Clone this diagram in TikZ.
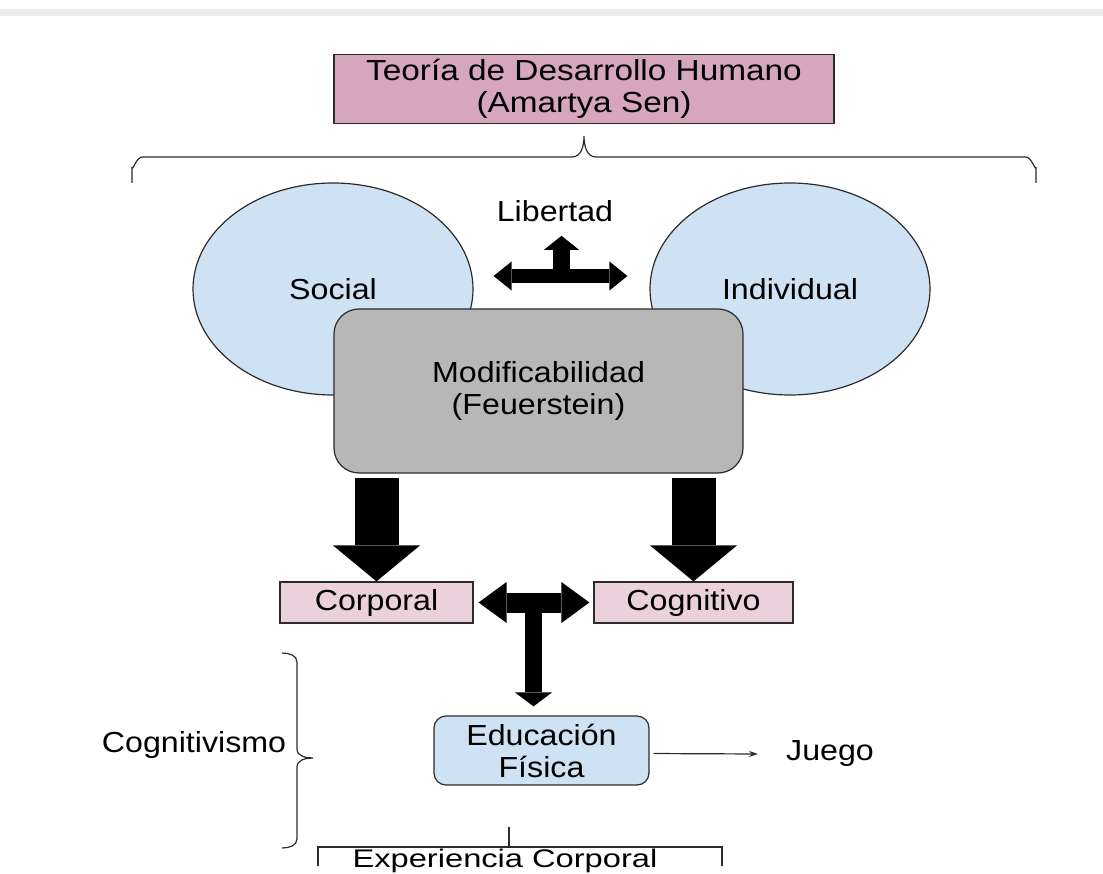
\documentclass[tikz,border=0pt]{standalone}
\usepackage{fontspec}
\setmainfont{Liberation Sans}[FakeStretch=1.11]
\newfontfamily\titlefont{Liberation Sans}[FakeStretch=1.15]
\newfontfamily\widefont{Liberation Sans}[FakeStretch=1.28]
\usepackage{tikz}
\usetikzlibrary{shapes.geometric,arrows.meta}

\definecolor{teoriapink}{HTML}{D5A6BD}
\definecolor{boxpink}{HTML}{EAD1DC}
\definecolor{ovalblue}{HTML}{CFE2F3}
\definecolor{modgray}{HTML}{B7B7B7}
\definecolor{edgegray}{HTML}{2B2B2B}

\begin{document}
\begin{tikzpicture}[x=1pt,y=-1pt,
    every node/.style={font=\fontsize{29}{32}\selectfont},
    oval/.style={ellipse, draw=edgegray, line width=1.2pt, fill=ovalblue, minimum width=280pt, minimum height=212pt},
    pinkbox/.style={rectangle, draw=edgegray, line width=1.2pt, fill=boxpink, minimum height=41pt},
    blockarrow/.style n args={3}{line width=#1, -{Triangle[width=#2,length=#3,line width=0pt]}},
    blockboth/.style n args={3}{line width=#1, {Triangle[width=#2,length=#3,line width=0pt]}-{Triangle[width=#2,length=#3,line width=0pt]}},
    bracket/.style={draw=edgegray, line width=1.2pt}]
  \useasboundingbox (0,0) rectangle (1103,874);
  \fill[black!7] (0,9) rectangle (1103,16);

  \node[rectangle, draw=edgegray, line width=1.2pt, fill=teoriapink, minimum width=500pt, minimum height=69pt, align=center, font=\titlefont\fontsize{29}{32}\selectfont] (teoria) at (584,89) {Teoría de Desarrollo Humano\\(Amartya Sen)};
  \draw[bracket] (132,183) -- (132,167) to[out=-90,in=180] (142,157) -- (572,157) to[out=0,in=-90] (584,136) to[out=-90,in=180] (596,157) -- (1026,157) to[out=0,in=-90] (1036,167) -- (1036,183);

  \node[oval] (social) at (333,289) {Social};
  \node[oval] (individual) at (790,289) {Individual};
  \node[anchor=base] (libertad) at (555,222) {Libertad};
  \draw[blockboth={14pt}{29pt}{18pt}, shorten <=20pt, shorten >=22pt] ([yshift=13pt]social.east) -- coordinate (libmid) ([yshift=13pt]individual.west);
  \draw[blockarrow={17pt}{35pt}{14pt}, shorten >=10pt] (libmid) -- (libmid |- libertad.south);

  \node[rectangle, rounded corners=25pt, draw=edgegray, line width=1.2pt, fill=modgray, minimum width=409pt, minimum height=164pt, align=center] (modif) at (538.5,391) {Modificabilidad\\(Feuerstein)};

  \node[pinkbox, minimum width=193pt] (corporal) at (376.5,602.5) {Corporal};
  \node[pinkbox, minimum width=199pt] (cognitivo) at (693.5,602.5) {Cognitivo};
  \draw[blockarrow={44pt}{87pt}{36pt}, shorten <=4pt] (modif.south -| corporal.north) -- (corporal.north);
  \draw[blockarrow={44pt}{87pt}{36pt}, shorten <=4pt] (modif.south -| cognitivo.north) -- (cognitivo.north);

  \node[rectangle, rounded corners=12pt, draw=edgegray, line width=1.2pt, fill=ovalblue, minimum width=215pt, minimum height=69pt, align=center] (educacion) at (541.5,750.5) {Educación\\Física};
  \draw[blockboth={20pt}{41pt}{28pt}, shorten <=5pt, shorten >=4pt] (corporal.east) -- coordinate (tmid) (cognitivo.west);
  \draw[blockarrow={17pt}{37pt}{14pt}, shorten >=9pt] (tmid) -- (tmid |- educacion.north);

  \node[anchor=base] (juego) at (830,760) {Juego};
  \coordinate (jtip) at (758,754);
  \draw[-{Stealth[length=9pt,width=6pt]}, line width=1.2pt, draw=edgegray, shorten <=4pt] ([yshift=-3pt]educacion.east) -- (jtip);

  \node[anchor=base] (cognitivismo) at (194,752) {Cognitivismo};
  \draw[bracket] (282,653) to[out=0,in=90] (297,662) -- (297,749) to[out=-90,in=180] (313,758) to[out=180,in=90] (297,767) -- (297,839) to[out=-90,in=0] (282,848);

  \draw[bracket] (318,866) -- (318,847) -- (722,847) -- (722,866);
  \draw[bracket] (509,827) -- (509,847);
  \node[anchor=base] (experiencia) at (505,867) {\widefont\fontsize{25.5}{30}\selectfont Experiencia Corporal};
\end{tikzpicture}
\end{document}
